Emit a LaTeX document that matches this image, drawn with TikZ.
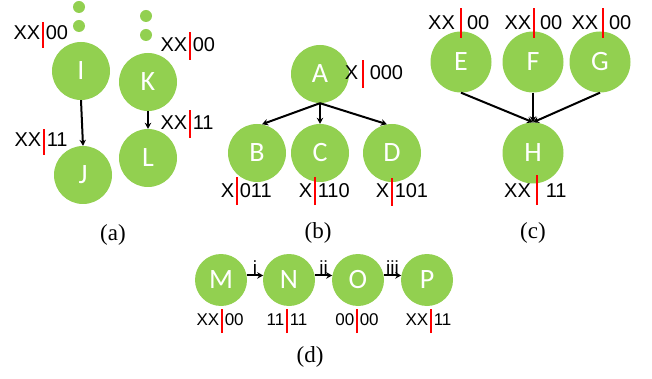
\documentclass[tikz,border=0pt]{standalone}
\usepackage{fontspec}
\setmainfont{Liberation Serif}
\newfontfamily\calib{Carlito}
\newfontfamily\arial{Liberation Sans}
\usetikzlibrary{arrows.meta}
\usepackage{xcolor}
\definecolor{leaf}{RGB}{146,208,80}
\newcommand{\bits}[3][28pt]{\llap{#2\kern1.5pt}\textcolor{red}{\rule[-8pt]{2.5pt}{#1}}\rlap{\kern1.5pt#3}}

\begin{document}
\begin{tikzpicture}[x=1pt, y=-1pt,
	v/.style = {circle, fill=leaf, inner sep=0, minimum size=58, text=white, font=\calib\fontsize{28}{32}\selectfont},
	w/.style = {v, minimum size=61},
	u/.style = {v, minimum size=52},
	dot/.style = {circle, fill=leaf, inner sep=0, minimum size=12},
	lb/.style = {anchor=base, inner sep=0, font=\arial\fontsize{20}{24}\selectfont},
	lbs/.style = {lb, font=\arial\fontsize{17}{20}\selectfont},
	capt/.style = {font=\fontsize{23}{26}\selectfont},
	r/.style = {-{Stealth[length=6pt, width=6.5pt]}, line width=2pt}
	]
	\useasboundingbox (0,0) rectangle (652,379);
	
	% === === Nodes === ===
	\node[dot]	(d1)	at	(79, 7)		{};
	\node[dot]	(d2)	at	(79, 26)	{};
	\node[dot]	(d3)	at	(146, 16)	{};
	\node[dot]	(d4)	at	(146, 35)	{};
	
	\node[v]	(I)	at	(81, 71)	{I};
	\node[v]	(J)	at	(83, 175)	{J};
	\node[v]	(K)	at	(148, 82)	{K};
	\node[v]	(L)	at	(148, 158)	{L};
	
	\node[v]	(A)	at	(320, 74)	{A};
	\node[v]	(B)	at	(257, 153)	{B};
	\node[v]	(C)	at	(320, 153)	{C};
	\node[v]	(D)	at	(392, 153)	{D};
	
	\node[w]	(E)	at	(461, 62)	{E};
	\node[w]	(F)	at	(533, 62)	{F};
	\node[w]	(G)	at	(600, 62)	{G};
	\node[w]	(H)	at	(533, 153)	{H};
	
	\node[u]	(M)	at	(221, 280)	{M};
	\node[u]	(N)	at	(289, 280)	{N};
	\node[u]	(O)	at	(358, 280)	{O};
	\node[u]	(P)	at	(427, 280)	{P};
	
	% === === Labels === ===
	\node[lb]	(tI)	at	(43, 40)	{\bits[26pt]{XX}{00}};
	\node[lb]	(tK)	at	(190, 52)	{\bits{XX}{00}};
	\node[lb]	(tJ)	at	(44, 147)	{\bits[26pt]{XX}{11}};
	\node[lb]	(tL)	at	(190, 130)	{\bits{XX}{11}};
	
	\node[lb]	(tA)	at	(363, 80)	{\bits{X\kern2pt}{\kern4pt000}};
	\node[lb]	(tB)	at	(237, 197)	{\bits{X}{011}};
	\node[lb]	(tC)	at	(315, 197)	{\bits{X}{110}};
	\node[lb]	(tD)	at	(392, 198)	{\bits{X}{101}};
	
	\node[lb]	(tE)	at	(461, 30)	{\bits[30pt]{XX\,}{\,00}};
	\node[lb]	(tF)	at	(534, 30)	{\bits[30pt]{XX}{\,00}};
	\node[lb]	(tG)	at	(603, 30)	{\bits[30pt]{XX\kern2pt}{\,00}};
	\node[lb]	(tH)	at	(537, 197)	{\bits[30pt]{XX\,}{\kern6pt11}};
	
	\node[lbs]	(tM)	at	(222, 325)	{\bits[24pt]{XX}{00}};
	\node[lbs]	(tN)	at	(287, 325)	{\bits[24pt]{11}{11}};
	\node[lbs]	(tO)	at	(357, 325)	{\bits[24pt]{00}{00}};
	\node[lbs]	(tP)	at	(431, 325)	{\bits[24pt]{XX}{11}};
	
	\node[capt]	(ca)	at	(113, 235)	{(a)};
	\node[capt]	(cb)	at	(318, 233)	{(b)};
	\node[capt]	(cc)	at	(533, 233)	{(c)};
	\node[capt]	(cd)	at	(310, 357)	{(d)};
	
	% === === Lines === ===
	\draw[r]	(I.south)	to	(J.north);
	\draw[r]	(K.south)	to	(L.north);
	\draw[r]	(A.south)	to	(B.80);
	\draw[r]	(A.south)	to	(C.north);
	\draw[r]	(A.south)	to	(D.100);
	\draw[r]	(E.south)	to	(H.north);
	\draw[r]	(F.south)	to	(H.north);
	\draw[r]	(G.south)	to	(H.north);
	\draw[r]	(M.10)	to	node[lbs, anchor=south, above=0pt, font=\arial\fontsize{19}{22}\selectfont]	{i}	(N.170);
	\draw[r]	(N.10)	to	node[lbs, anchor=south, above=0pt, font=\arial\fontsize{19}{22}\selectfont]	{ii}	(O.170);
	\draw[r]	(O.10)	to	node[lbs, anchor=south, above=0pt, font=\arial\fontsize{19}{22}\selectfont]	{iii}	(P.170);
	
\end{tikzpicture}
\end{document}
